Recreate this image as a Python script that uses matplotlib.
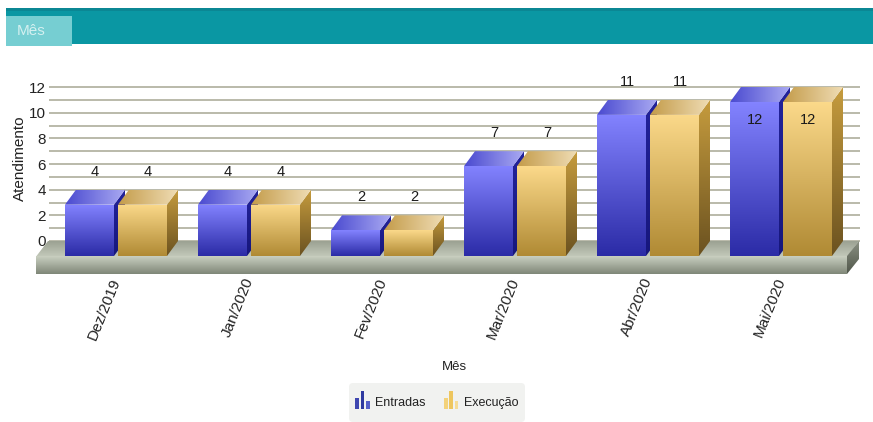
import matplotlib
matplotlib.use("Agg")
import matplotlib.pyplot as plt
import numpy as np
from matplotlib.colors import LinearSegmentedColormap
from matplotlib.legend_handler import HandlerBase
from matplotlib.patches import FancyBboxPatch, Polygon, Rectangle
from matplotlib.transforms import ScaledTranslation

months = ["Dez/2019", "Jan/2020", "Fev/2020", "Mar/2020", "Abr/2020", "Mai/2020"]
entradas = [4, 4, 2, 7, 11, 12]
execucao = [4, 4, 2, 7, 11, 12]
y_ticks = [0, 2, 4, 6, 8, 10, 12]
y_minor = [1, 3, 5, 7, 9, 11]

W, H = 873, 422
plt.rcParams["font.family"] = ["Liberation Sans Narrow", "Liberation Sans", "DejaVu Sans"]

fig = plt.figure(figsize=(W / 100, H / 100), dpi=100, facecolor="white")
L, R, T, B = 49, 860, 60, 276
ax = fig.add_axes([L / W, 1 - B / H, (R - L) / W, (B - T) / H])
ax.patch.set_alpha(0)
for s in ax.spines.values():
    s.set_visible(False)

PX_X, PX_Y = 133.0, 12.83
ax.set_xlim((L - 116) / PX_X, (R - 116) / PX_X)
ax.set_ylim((241 - B) / PX_Y, (241 - T) / PX_Y)
DX, DY = 11 / PX_X, 15 / PX_Y
BW = 49 / PX_X
OFF_A, OFF_B = -51 / PX_X, 2 / PX_X
BASE = -DY


def grad(poly, c0, c1, vertical=True, z=3):
    """Fill a polygon with a linear gradient; c0 = top/left, c1 = bottom/right."""
    pts = np.array(poly)
    cmap = LinearSegmentedColormap.from_list("g", [c0, c1])
    arr = np.linspace(0, 1, 128)
    arr = arr[:, None] if vertical else arr[None, :]
    x0, x1, y0, y1 = pts[:, 0].min(), pts[:, 0].max(), pts[:, 1].min(), pts[:, 1].max()
    im = ax.imshow(arr, cmap=cmap, extent=(x0, x1, y0, y1), origin="upper",
                   aspect="auto", zorder=z, interpolation="bilinear")
    clip = Polygon(pts, closed=True, transform=ax.transData, fc="none", ec="none")
    im.set_clip_box(fig.bbox)
    im.set_clip_path(clip)


def bar3d(x, v, front, side, top, z):
    t = BASE + v
    grad([(x + BW, BASE), (x + BW + DX, 0), (x + BW + DX, v), (x + BW, t)], side[0], side[1], z=z)
    grad([(x, t), (x + BW, t), (x + BW + DX, v), (x + DX, v)], top[0], top[1], vertical=False, z=z)
    grad([(x, BASE), (x + BW, BASE), (x + BW, t), (x, t)], front[0], front[1], z=z + 0.1)


# floor, in axis units
x_a, x_b = (36 - 116) / PX_X, (847 - 116) / PX_X
slab = 18 / PX_Y
grad([(x_a, BASE - 0.05), (x_a + 12 / PX_X, 0), (x_b + 12 / PX_X, 0), (x_b, BASE - 0.05)],
     "#9ba192", "#c4cabb", z=2)
grad([(x_a, BASE), (x_b, BASE), (x_b, BASE - slab), (x_a, BASE - slab)],
     "#c9cfc0", "#7f8778", z=2.1)
grad([(x_b, BASE), (x_b + 12 / PX_X, 0), (x_b + 12 / PX_X, -slab), (x_b, BASE - slab)],
     "#8a9082", "#50564a", z=2.1)

BLUE = (("#8383ff", "#2b2ba6"), ("#23239c", "#17177c"), ("#4a4ad0", "#a9a9f2"))
GOLD = (("#fbd98a", "#b08a34"), ("#c69c3e", "#6b5220"), ("#c49c4a", "#efdcb4"))

for i, (a, b) in enumerate(zip(entradas, execucao)):
    bar3d(i + OFF_A, a, *BLUE, z=3 + i)
    bar3d(i + OFF_B, b, *GOLD, z=3.3 + i)
    for off, v in ((OFF_A, a), (OFF_B, b)):
        if v >= 12:
            ax.annotate(str(v), (i + off + BW / 2 + 1 / PX_X, v), xytext=(0, -33), textcoords="offset pixels",
                        ha="center", va="center", fontsize=10.5, color="#1a1a1a", zorder=20)
        else:
            ax.annotate(str(v), (i + off + BW / 2 + DX / 2, v), xytext=(0, 18), textcoords="offset pixels",
                        ha="center", va="center", fontsize=10.5, color="#1a1a1a", zorder=20)

ax.set_yticks(y_ticks)
ax.set_yticks(y_minor, minor=True)
ax.grid(True, axis="y", which="both", color="#b4b4a4", lw=1.3, zorder=1)
ax.set_axisbelow(True)
ax.tick_params(axis="y", which="both", length=0, pad=2, labelsize=11, labelcolor="#222222")
ax.set_xticks(range(len(months)))
ax.set_xticklabels(months, rotation=68, ha="right", va="top", rotation_mode="anchor",
                   fontsize=11, color="#222222")
ax.tick_params(axis="x", length=0, pad=0)
shift = ScaledTranslation(-6 / 100, 0, fig.dpi_scale_trans)
for lab in ax.get_xticklabels():
    lab.set_transform(lab.get_transform() + shift)
ax.set_ylabel("Atendimento", fontsize=11, family=["Liberation Sans"], color="#222222")
ax.yaxis.set_label_coords((27 - L) / (R - L), (B - 158) / (B - T))
ax.set_xlabel("Mês", fontsize=9.5, color="#222222")
ax.xaxis.set_label_coords(0.5, (B - 367) / (B - T))
ax.xaxis.label.set_va("center")


def px_rect(x, y, w, h, c, z=0):
    fig.add_artist(Rectangle((x / W, 1 - (y + h) / H), w / W, h / H, transform=fig.transFigure,
                             fc=c, ec="none", zorder=z))


# header band
px_rect(6, 8, W - 6, 36, "#0a97a3")
px_rect(6, 8, W - 6, 3, "#0b8794", z=0.1)
px_rect(6, 16, 66, 30, "#76ced2", z=0.2)
fig.text(31 / W, 1 - 31 / H, "Mês", color="#d4f0f0", fontsize=11, ha="center", va="center")

# legend panel
fig.add_artist(FancyBboxPatch((352, H - 419), 170, 33, boxstyle="round,pad=3,rounding_size=4",
                              transform=None, fc="#f1f2f0", ec="none", zorder=0.5))


class BarsIcon(HandlerBase):
    def __init__(self, cols):
        super().__init__()
        self.cols = cols

    def create_artists(self, legend, orig, xd, yd, w, h, fs, trans):
        out = []
        for k, (frac, c) in enumerate(zip((0.6, 1.0, 0.45), self.cols)):
            out.append(Rectangle((-xd + k * 3.8, -yd - 2), 2.6, 12.5 * frac,
                                 fc=c, ec="none", transform=trans))
        return out


h1 = Rectangle((0, 0), 1, 1, label="Entradas")
h2 = Rectangle((0, 0), 1, 1, label="Execução")
leg = fig.legend(
    handles=[h1, h2], loc="center", bbox_to_anchor=(437 / W, 1 - 403 / H), ncol=2, fontsize=9,
    handler_map={h1: BarsIcon(("#3f47b0", "#2f3aa0", "#5560c8")),
                 h2: BarsIcon(("#f3d27a", "#eec65e", "#f6dc96"))},
    handlelength=1.1, handletextpad=0.5, columnspacing=1.45, borderpad=0.5,
    frameon=False, labelcolor="#222222",
)

fig.savefig("out.png", dpi=100)
